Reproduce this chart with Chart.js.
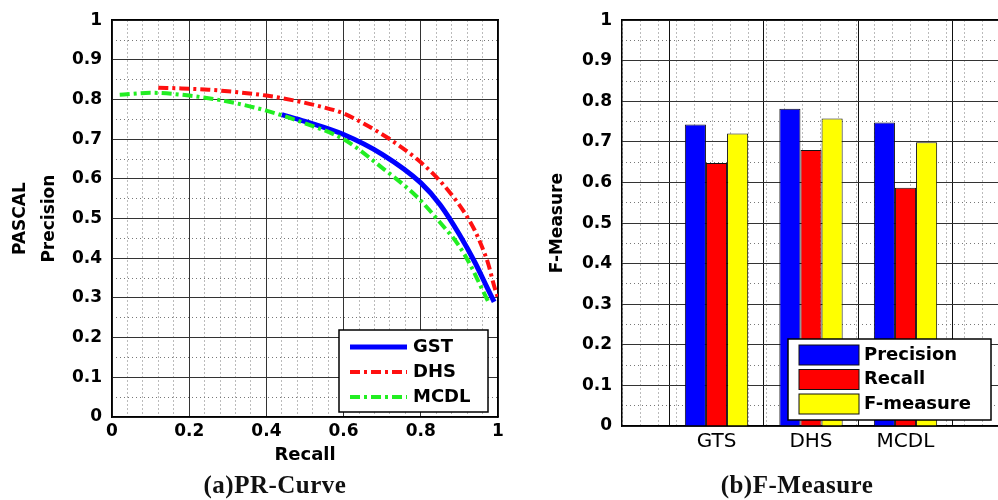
<!DOCTYPE html>
<html>
<head>
<meta charset="utf-8">
<script src="https://cdn.jsdelivr.net/npm/chart.js"></script>
<style>
  body { margin: 0; width: 998px; height: 500px; overflow: hidden; background: #fff; position: relative; }
  canvas { position: absolute; top: 0; }
  .cap { position: absolute; top: 470px; height: 30px; line-height: 30px; text-align: center; letter-spacing: 0.5px;
         font-family: 'Liberation Serif', 'Times New Roman', serif; font-weight: bold; font-size: 25px; color: #111; }
</style>
</head>
<body>
<canvas id="pr" width="540" height="500" style="left:0"></canvas>
<canvas id="fm" width="464" height="500" style="left:540px"></canvas>
<div class="cap" style="left:0;width:550px">(a)PR-Curve</div>
<div class="cap" style="left:697px;width:200px">(b)F-Measure</div>
<script>
// PR curves (recall, precision)
const gstRecall    = [0.44, 0.50, 0.60, 0.70, 0.80, 0.85, 0.90, 0.94, 0.97, 0.99]
const gstPrecision = [0.762, 0.745, 0.712, 0.662, 0.59, 0.535, 0.46, 0.39, 0.33, 0.29]
const dhsRecall    = [0.12, 0.18, 0.25, 0.33, 0.40, 0.47, 0.53, 0.60, 0.66, 0.72, 0.79, 0.84, 0.88, 0.91, 0.94, 0.96, 0.975, 0.99, 1.0]
const dhsPrecision = [0.83, 0.828, 0.825, 0.818, 0.81, 0.798, 0.785, 0.765, 0.735, 0.70, 0.65, 0.605, 0.56, 0.52, 0.47, 0.425, 0.385, 0.33, 0.30]
const mcdlRecall    = [0.02, 0.10, 0.20, 0.30, 0.40, 0.50, 0.60, 0.70, 0.79, 0.85, 0.90, 0.93, 0.955, 0.975]
const mcdlPrecision = [0.812, 0.817, 0.81, 0.795, 0.772, 0.74, 0.70, 0.628, 0.555, 0.49, 0.43, 0.38, 0.33, 0.29]

// bar chart
const barCategories = ['GTS', 'DHS', 'MCDL']
const precisionVals = [0.743, 0.782, 0.748]
const recallVals    = [0.648, 0.680, 0.587]
const fmeasureVals  = [0.721, 0.758, 0.699]

Chart.defaults.font.family = 'DejaVu Sans'
Chart.defaults.color = '#000'
Chart.defaults.animation = false

const toPoints = (xs, ys) => xs.map((x, i) => ({ x: x, y: ys[i] }))
const fmt = v => String(Number(v.toFixed(2)))
const tickFont = { size: 17, weight: 'bold' }

function minorAxis(axis, position, step, max) {
  return {
    axis: axis, position: position, type: 'linear', min: 0, max: max,
    ticks: { display: false, stepSize: step },
    grid: { color: '#777', lineWidth: 1, drawTicks: false, z: -2 },
    border: { display: true, color: '#000', width: 1.5, dash: [1, 3] },
    afterFit: s => { if (axis === 'x') s.height = 0; else s.width = 0 }
  }
}

// legend box drawn inside the plot, lower right
const boxLegend = {
  id: 'boxLegend',
  afterDraw(chart, args, o) {
    const { ctx, chartArea } = chart
    const x0 = chartArea.right - o.right - o.width
    const y0 = chartArea.bottom - o.bottom - o.height
    ctx.save()
    ctx.fillStyle = '#fff'
    ctx.fillRect(x0, y0, o.width, o.height)
    ctx.strokeStyle = '#000'
    ctx.lineWidth = 1.5
    ctx.strokeRect(x0, y0, o.width, o.height)
    chart.data.datasets.forEach((ds, i) => {
      const y = y0 + o.firstRow + i * o.rowGap
      if (o.swatch === 'line') {
        ctx.beginPath()
        ctx.setLineDash(ds.borderDash || [])
        ctx.strokeStyle = ds.borderColor
        ctx.lineWidth = ds.borderWidth
        ctx.moveTo(x0 + 11, y)
        ctx.lineTo(x0 + 68, y)
        ctx.stroke()
        ctx.setLineDash([])
      } else {
        ctx.fillStyle = ds.backgroundColor
        ctx.fillRect(x0 + 11, y - 10, 60, 20)
        ctx.strokeStyle = '#111'
        ctx.lineWidth = 1
        ctx.strokeRect(x0 + 11, y - 10, 60, 20)
      }
      ctx.fillStyle = '#000'
      ctx.font = 'bold 18px "DejaVu Sans"'
      ctx.textBaseline = 'middle'
      ctx.textAlign = 'left'
      ctx.fillText(ds.label, x0 + o.textX, y)
    })
    ctx.restore()
  }
}

new Chart(document.getElementById('pr'), {
  type: 'line',
  data: {
    datasets: [
      {
        label: 'GST',
        data: toPoints(gstRecall, gstPrecision),
        borderColor: '#0000ff',
        borderWidth: 5,
        pointRadius: 0,
        order: 3,
        cubicInterpolationMode: 'monotone'
      },
      {
        label: 'DHS',
        data: toPoints(dhsRecall, dhsPrecision),
        borderColor: '#ff1010',
        borderWidth: 4,
        borderDash: [10, 4, 3, 4],
        pointRadius: 0,
        order: 2,
        cubicInterpolationMode: 'monotone'
      },
      {
        label: 'MCDL',
        data: toPoints(mcdlRecall, mcdlPrecision),
        borderColor: '#22ee22',
        borderWidth: 4,
        borderDash: [10, 4, 3, 4],
        pointRadius: 0,
        order: 1,
        cubicInterpolationMode: 'monotone'
      }
    ]
  },
  options: {
    responsive: false,
    layout: { padding: { top: 17, right: 42, left: 0, bottom: 0 } },
    plugins: {
      legend: { display: false },
      tooltip: { enabled: false },
      boxLegend: { swatch: 'line', right: 10, bottom: 5, width: 149, height: 82, firstRow: 17, rowGap: 25, textX: 74 }
    },
    scales: {
      x: {
        type: 'linear', min: 0, max: 1,
        ticks: { stepSize: 0.2, padding: 4, font: tickFont, callback: fmt },
        grid: { color: '#333', lineWidth: 1, drawTicks: false },
        border: { color: '#000', width: 1.5 },
        title: { display: true, text: 'Recall', font: { size: 18, weight: 'bold' }, padding: { top: 0, bottom: 34 } },
        afterFit: s => { s.height = 83 }
      },
      y: {
        type: 'linear', min: 0, max: 1,
        ticks: { stepSize: 0.1, padding: 10, font: tickFont, callback: fmt },
        grid: { color: '#333', lineWidth: 1, drawTicks: false },
        border: { color: '#000', width: 1.5 },
        title: { display: true, text: ['PASCAL', 'Precision'], font: { size: 17, weight: 'bold', lineHeight: 1.7 }, padding: { top: 6.5, bottom: 0 } },
        afterFit: s => { s.width = 112 }
      },
      xMinor: minorAxis('x', 'top', 0.04, 1),
      yMinor: minorAxis('y', 'right', 0.05, 1)
    }
  },
  plugins: [boxLegend]
})

new Chart(document.getElementById('fm'), {
  type: 'bar',
  data: {
    datasets: [
      { label: 'Precision', data: toPoints([1, 2, 3], precisionVals), backgroundColor: '#0000ff' },
      { label: 'Recall', data: toPoints([1, 2, 3], recallVals), backgroundColor: '#ff0000' },
      { label: 'F-measure', data: toPoints([1, 2, 3], fmeasureVals), backgroundColor: '#ffff00' }
    ]
  },
  options: {
    responsive: false,
    layout: { padding: { top: 17, right: 0, left: 0, bottom: 0 } },
    datasets: {
      bar: { borderColor: '#111', borderWidth: 1, categoryPercentage: 0.67, barPercentage: 1 }
    },
    plugins: {
      legend: { display: false },
      tooltip: { enabled: false },
      boxLegend: { swatch: 'box', right: 9, bottom: 6, width: 203, height: 81, firstRow: 16, rowGap: 24.5, textX: 76 }
    },
    scales: {
      x: {
        type: 'linear', min: 0, max: 4, offset: false,
        ticks: { stepSize: 1, padding: 4, font: { size: 20 }, callback: v => barCategories[v - 1] || '' },
        grid: { color: '#111', lineWidth: 1, drawTicks: false },
        border: { color: '#000', width: 1.5 },
        afterFit: s => { s.height = 74 }
      },
      y: {
        type: 'linear', min: 0, max: 1,
        ticks: { stepSize: 0.1, padding: 10, font: tickFont, callback: fmt },
        grid: { color: '#333', lineWidth: 1, drawTicks: false },
        border: { color: '#000', width: 1.5 },
        title: { display: true, text: 'F-Measure', font: { size: 17, weight: 'bold' }, padding: { top: 7, bottom: 0 } },
        afterFit: s => { s.width = 82 }
      },
      xMinor: minorAxis('x', 'top', 0.2, 4),
      yMinor: minorAxis('y', 'right', 0.05, 1)
    }
  },
  plugins: [boxLegend]
})
</script>
</body>
</html>
